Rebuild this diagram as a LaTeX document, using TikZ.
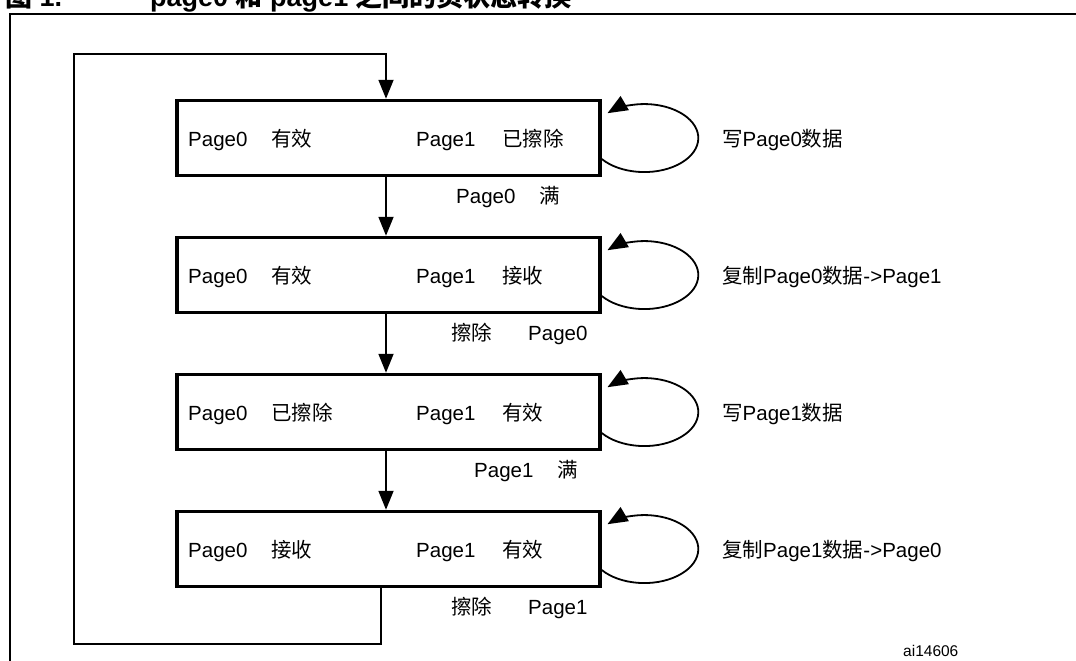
\documentclass[tikz,border=0pt]{standalone}
\usepackage{fontspec}
\setmainfont{Liberation Sans}
\newfontfamily\cjk{Noto Sans CJK SC}
\usetikzlibrary{arrows.meta,calc}
\newcommand{\zh}[1]{{\cjk #1}}
\begin{document}
\begin{tikzpicture}[x=1pt,y=1pt,
  box/.style={draw, line width=3.5pt, minimum width=423pt, minimum height=75pt, inner sep=0pt},
  conn/.style={line width=1.8pt, -{Triangle[length=19pt,width=15pt]}},
  selfloop/.style={line width=1.8pt, -{Triangle[length=20pt,width=16pt]}},
  txt/.style={anchor=base west, font=\fontsize{20.5}{24}\selectfont, inner sep=0pt},
  ttl/.style={anchor=base west, font=\fontsize{27}{30}\selectfont\bfseries, inner sep=0pt},
  small/.style={anchor=base west, font=\fontsize{15.5}{18}\selectfont, inner sep=0pt}]
\useasboundingbox (0,0) rectangle (1076,-661);
\fill[white] (0,0) rectangle (1076,-661);
% outer frame (cut by page)
\draw[line width=2pt] (10,-700) -- (10,-13.7) -- (1100,-13.7);
% title
\node[ttl] (t1) at (5,-6.5) {\zh{图} 1.};
\node[ttl] (t2) at (150,-6.5) {page0 \zh{和} page1 \zh{之间的页状态转换}};
% boxes
\node[box] (b1) at (388.5,-138) {};
\node[box] (b2) at (388.5,-275) {};
\node[box] (b3) at (388.5,-412) {};
\node[box] (b4) at (388.5,-549) {};
% box texts
\node[txt] (l1) at (188,-146.5) {Page0\hspace{24pt}\zh{有效}};
\node[txt] (r1) at (416,-146.5) {Page1\hspace{27pt}\zh{已擦除}};
\node[txt] (l2) at (188,-283.5) {Page0\hspace{24pt}\zh{有效}};
\node[txt] (r2) at (416,-283.5) {Page1\hspace{27pt}\zh{接收}};
\node[txt] (l3) at (188,-420.5) {Page0\hspace{24pt}\zh{已擦除}};
\node[txt] (r3) at (416,-420.5) {Page1\hspace{27pt}\zh{有效}};
\node[txt] (l4) at (188,-557.5) {Page0\hspace{24pt}\zh{接收}};
\node[txt] (r4) at (416,-557.5) {Page1\hspace{27pt}\zh{有效}};
% right labels
\node[txt] (s1) at (722,-146.5) {\zh{写}Page0\zh{数据}};
\node[txt] (s2) at (722,-283.5) {\zh{复制}Page0\zh{数据}->Page1};
\node[txt] (s3) at (722,-420.5) {\zh{写}Page1\zh{数据}};
\node[txt] (s4) at (722,-557.5) {\zh{复制}Page1\zh{数据}->Page0};
% transition labels
\node[txt] (e1) at (456,-203) {Page0\hspace{24pt}\zh{满}};
\node[txt] (e2) at (451,-340) {\zh{擦除}\hspace{36pt}Page0};
\node[txt] (e3) at (474,-477) {Page1\hspace{24pt}\zh{满}};
\node[txt] (e4) at (451,-614) {\zh{擦除}\hspace{36pt}Page1};
\node[small] (id) at (903,-656) {ai14606};
% connectors
\coordinate (ax) at (386,0);
\coordinate (rx) at (381,0);
\coordinate (c1) at (74,-644);
\coordinate (c2) at (74,-54);
\draw[conn] (b1.south -| ax) -- (b2.north -| ax);
\draw[conn] (b2.south -| ax) -- (b3.north -| ax);
\draw[conn] (b3.south -| ax) -- (b4.north -| ax);
\draw[conn] (b4.south -| rx) |- (c1) -- (c2) -| (b1.north -| ax);
% self loops
\foreach \b in {b1,b2,b3,b4}
  \draw[selfloop] ([yshift=-21pt]\b.east) arc[start angle=-142,end angle=133,x radius=54pt,y radius=34pt];
\end{tikzpicture}
\end{document}
